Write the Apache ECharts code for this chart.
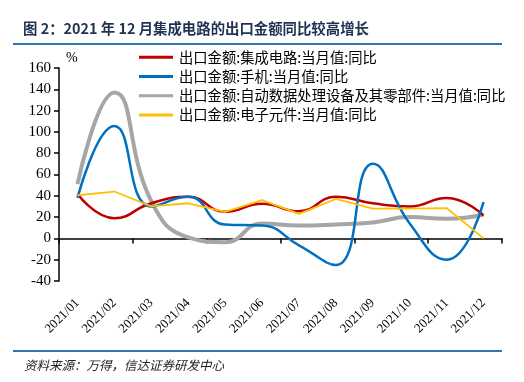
<!DOCTYPE html>
<html>
<head>
<meta charset="utf-8">
<script src="https://cdn.jsdelivr.net/npm/echarts@6/dist/echarts.min.js"></script>
<style>
html,body{margin:0;padding:0;background:#fff;}
#c{width:524px;height:382px;}
</style>
</head>
<body>
<div id="c"></div>
<script>
var categories = ['2021/01','2021/02','2021/03','2021/04','2021/05','2021/06','2021/07','2021/08','2021/09','2021/10','2021/11','2021/12'];
var icValues = [42, 19, 33, 39, 25, 32.5, 25.5, 39, 33, 30, 38, 21.5];
var phoneValues = [38, 105.5, 30, 39, 13, 12, -6.5, -25, 70, 14, -20, 34];
var adpValues = [51, 137, 35, 1, -3.5, 14, 12, 13, 15, 20, 18.5, 22.5];
var compValues = [40.5, 44, 30, 33, 25, 36, 23, 37, 28, 28, 28.5, 0];
var seriesNames = ['出口金额:集成电路:当月值:同比','出口金额:手机:当月值:同比','出口金额:自动数据处理设备及其零部件:当月值:同比','出口金额:电子元件:当月值:同比'];
var yTicks = {min: -40, max: 160, interval: 20};

var titleText = '图 2：2021 年 12 月集成电路的出口金额同比较高增长';
var sourceText = '资料来源：万得，信达证券研发中心';
var chart = echarts.init(document.getElementById('c'), null, {renderer: 'canvas'});
var serif = 'Liberation Serif';
var cjk = 'Noto Sans CJK SC';
chart.setOption({
  animation: false,
  backgroundColor: '#fff',
  graphic: [
    {type: 'text', x: 23, y: 21, style: {text: titleText, fontSize: 14.4, fontWeight: 'bold', fontFamily: cjk, fill: '#1f3350'}},
    {type: 'rect', shape: {x: 13, y: 43, width: 489, height: 2}, style: {fill: '#2e75b6'}},
    {type: 'rect', shape: {x: 13, y: 350, width: 489, height: 2}, style: {fill: '#2e75b6'}},
    {type: 'text', x: 24, y: 359, style: {text: sourceText, fontSize: 12.5, fontStyle: 'italic', fontFamily: cjk, fill: '#222'}},
    {type: 'text', x: 66, y: 51, style: {text: '%', fontSize: 14, fontFamily: serif, fill: '#000'}}
  ],
  legend: {
    orient: 'vertical',
    left: 134, top: 45,
    itemWidth: 34, itemHeight: 14, itemGap: 5,
    icon: 'path://M0,5.5 L34,5.5 L34,8.5 L0,8.5 Z',
    textStyle: {fontSize: 14.3, fontFamily: cjk, color: '#000', padding: [0,0,0,1]},
    data: seriesNames.map(function(n){return {name: n};})
  },
  grid: {left: 59, right: 22, top: 68, height: 213, containLabel: false},
  xAxis: [
    {
      type: 'category', data: categories, boundaryGap: true,
      axisLine: {onZero: true, lineStyle: {color: '#000', width: 1.5}},
      axisTick: {show: true, length: 5, lineStyle: {color: '#000', width: 1.5}},
      axisLabel: {show: false},
      splitLine: {show: false}
    },
    {
      type: 'category', data: categories, boundaryGap: true, position: 'bottom',
      axisLine: {show: false, onZero: false}, axisTick: {show: false},
      axisLabel: {show: true, rotate: 45, margin: 20, fontSize: 13, fontFamily: serif, color: '#000'},
      splitLine: {show: false}
    }
  ],
  yAxis: {
    type: 'value', min: yTicks.min, max: yTicks.max, interval: yTicks.interval,
    axisLine: {show: true, lineStyle: {color: '#000', width: 1.5}},
    axisTick: {show: true, length: 5, lineStyle: {color: '#000', width: 1.5}},
    axisLabel: {fontSize: 15, fontFamily: serif, color: '#000', margin: 8},
    splitLine: {show: false}
  },
  series: [
    {name: seriesNames[0], type: 'line', data: icValues, smooth: true, symbol: 'none', z: 4,
     lineStyle: {color: '#c00000', width: 2.5}, itemStyle: {color: '#c00000'}},
    {name: seriesNames[1], type: 'line', data: phoneValues, smooth: true, symbol: 'none', z: 5,
     lineStyle: {color: '#0070c0', width: 2.5}, itemStyle: {color: '#0070c0'}},
    {name: seriesNames[2], type: 'line', data: adpValues, smooth: true, symbol: 'none', z: 3,
     lineStyle: {color: '#a6a6a6', width: 4}, itemStyle: {color: '#a6a6a6'}},
    {name: seriesNames[3], type: 'line', data: compValues, smooth: false, symbol: 'none', z: 6,
     lineStyle: {color: '#ffc000', width: 1.8}, itemStyle: {color: '#ffc000'}}
  ]
});
</script>
</body>
</html>
